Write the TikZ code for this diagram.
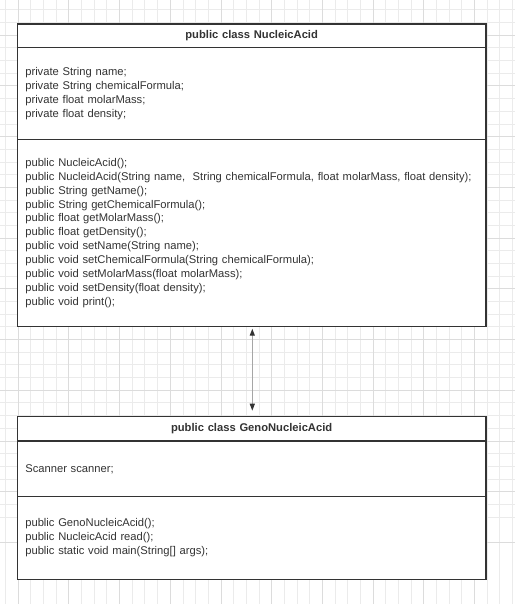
\documentclass[tikz,border=0pt]{standalone}
\usepackage{fontspec}
\setmainfont{Liberation Sans}
\usepackage{xcolor}
\usetikzlibrary{positioning,arrows.meta}
\definecolor{ink}{HTML}{333333}
\definecolor{gridminor}{HTML}{EBEBEB}
\definecolor{gridmajor}{HTML}{DCDCDC}
\newcommand{\umlfont}{\fontsize{11.2}{13.93}\selectfont}
\hyphenpenalty=10000
\exhyphenpenalty=10000
\tikzstyle{compart}=[draw=ink, line width=1.2pt, fill=white, outer sep=0pt, inner xsep=8pt, inner ysep=0pt, text width=452.7pt, align=left, text=ink, font=\umlfont]
\tikzstyle{header}=[compart, align=center, font=\bfseries\umlfont]
\newcommand{\compart}{\node[compart]}

\begin{document}
\begin{tikzpicture}[x=1pt,y=-1pt]
\useasboundingbox (0,0) rectangle (515,604);
\foreach \k in {0,...,40}{
	\draw[gridminor, line width=1pt] ({5.62+12.67*\k},0) -- ({5.62+12.67*\k},604);
	\draw[gridminor, line width=1pt] (0,{9.9+12.68*\k}) -- (515,{9.9+12.68*\k});
	}
\foreach \k in {0,...,10}{
	\draw[gridmajor, line width=1pt] ({18.3+50.68*\k},0) -- ({18.3+50.68*\k},604);
	\draw[gridmajor, line width=1pt] (0,{35.26+50.72*\k}) -- (515,{35.26+50.72*\k});
	}
\node[header, minimum height=23.7pt, anchor=north] (naHead) at (251.65,24) {public class NucleicAcid};
\compart[minimum height=91.6pt, below=0pt of naHead] (naAttr) {private String name;\\ private String chemicalFormula;\\ private float molarMass;\\ private float density;};
\compart[minimum height=187.4pt, below=0pt of naAttr] (naMeth) {public NucleicAcid();\\ public NucleidAcid(String name,~ String chemicalFormula, float molarMass, float density);\\ public String getName();\\ public String getChemicalFormula();\\ public float getMolarMass();\\ public float getDensity();\\ public void setName(String name);\\ public void setChemicalFormula(String chemicalFormula);\\ public void setMolarMass(float molarMass);\\ public void setDensity(float density);\\ public void print();};
\node[header, minimum height=24.3pt, below=90pt of naMeth] (gnaHead) {public class GenoNucleicAcid};
\compart[minimum height=55.7pt, below=0pt of gnaHead] (gnaAttr) {Scanner scanner;};
\compart[minimum height=82.6pt, below=0pt of gnaAttr] (gnaMeth) {public GenoNucleicAcid();\\ public NucleicAcid read();\\ public static void main(String[] args);};
\draw[gray!70, line width=1.2pt, {Triangle[length=7pt,width=5pt,color=ink]}-{Triangle[length=7pt,width=5pt,color=ink]}, shorten <=2pt, shorten >=6pt] (naMeth.south -| 252.3,0) -- (gnaHead.north -| 252.3,0);
\end{tikzpicture}
\end{document}
